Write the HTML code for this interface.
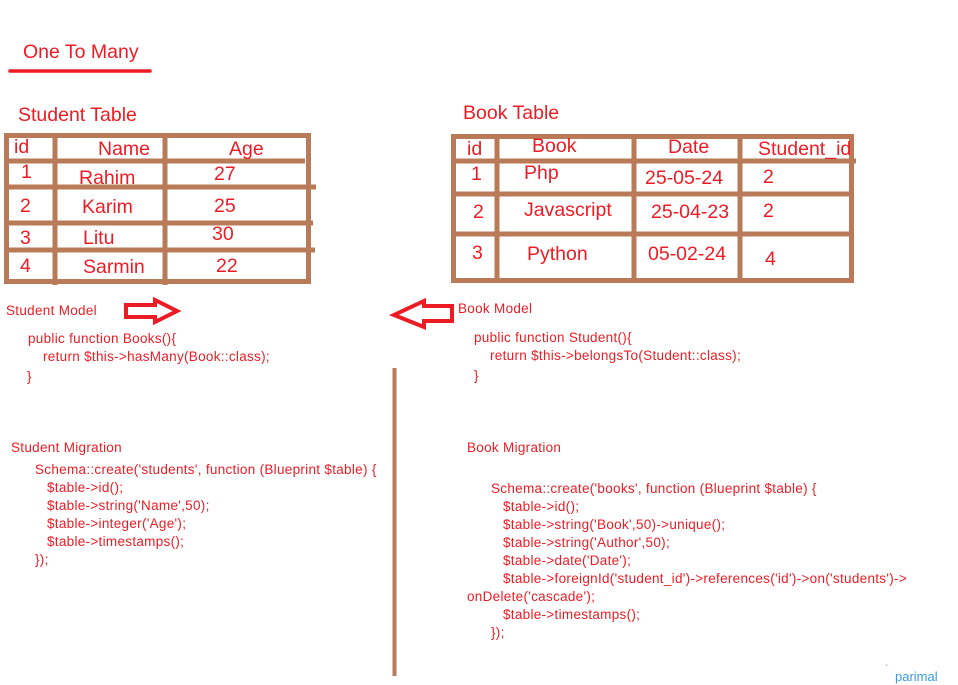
<!DOCTYPE html>
<html><head><meta charset="utf-8"><style>
html,body{margin:0;padding:0;background:#fff;}
svg{display:block;}
text{font-family:"Liberation Sans",sans-serif;fill:#ed1c24;}
.h{font-size:19.5px;}
.c{font-size:13.5px;letter-spacing:0.3px;}
</style></head><body>
<svg width="958" height="685" viewBox="0 0 958 685" xmlns="http://www.w3.org/2000/svg">
<text x="23" y="58" class="h">One To Many</text>
<line x1="10" y1="71" x2="150" y2="71" stroke="#ed1c24" stroke-width="3.5" stroke-linecap="round"/>

<text x="18" y="121" class="h">Student Table</text>
<text x="463" y="119" class="h">Book Table</text>

<g stroke="#b97a57" stroke-width="5" fill="none">
<rect x="6.5" y="135.5" width="302" height="146"/>
<line x1="55" y1="135" x2="55" y2="285"/>
<line x1="165" y1="135" x2="165" y2="285"/>
<line x1="6" y1="161" x2="305" y2="161"/>
<line x1="6" y1="187" x2="316" y2="187"/>
<line x1="6" y1="223" x2="313" y2="223"/>
<line x1="6" y1="250" x2="315" y2="250"/>

<rect x="453.5" y="136.5" width="398" height="144"/>
<line x1="497" y1="136" x2="497" y2="282"/>
<line x1="634" y1="136" x2="634" y2="282"/>
<line x1="740" y1="136" x2="740" y2="282"/>
<line x1="453" y1="161" x2="856" y2="161"/>
<line x1="453" y1="194" x2="851" y2="194"/>
<line x1="453" y1="234" x2="851" y2="234"/>

<line x1="394.5" y1="368" x2="394.5" y2="676" stroke-width="4"/>
</g>

<g class="h">
<text x="14" y="153">id</text><text x="98" y="155">Name</text><text x="229" y="155">Age</text>
<text x="21" y="178">1</text><text x="79" y="184">Rahim</text><text x="214" y="180">27</text>
<text x="20" y="212">2</text><text x="82" y="213">Karim</text><text x="214" y="212">25</text>
<text x="20" y="244">3</text><text x="83" y="244">Litu</text><text x="212" y="240">30</text>
<text x="20" y="272">4</text><text x="83" y="273">Sarmin</text><text x="216" y="272">22</text>

<text x="467" y="155">id</text><text x="532" y="152">Book</text><text x="668" y="153">Date</text><text x="758" y="155">Student_id</text>
<text x="471" y="180">1</text><text x="524" y="179">Php</text><text x="645" y="184">25-05-24</text><text x="763" y="183">2</text>
<text x="473" y="218">2</text><text x="524" y="216">Javascript</text><text x="651" y="218">25-04-23</text><text x="763" y="217">2</text>
<text x="472" y="259">3</text><text x="527" y="260">Python</text><text x="648" y="260">05-02-24</text><text x="765" y="265">4</text>
</g>

<g fill="none" stroke="#ed1c24" stroke-width="4" stroke-linejoin="miter">
<polygon points="126,305 155,305 155,300 177,311 155,322 155,317 126,317"/>
<polygon points="452,306 424,306 424,301 394,315 424,327 424,321 452,321"/>
</g>

<g class="c">
<text x="6" y="315">Student Model</text>
<text x="28" y="343">public function Books(){</text>
<text x="43" y="361">return $this-&gt;hasMany(Book::class);</text>
<text x="27" y="381">}</text>

<text x="458" y="313">Book Model</text>
<text x="474" y="342">public function Student(){</text>
<text x="490" y="360">return $this-&gt;belongsTo(Student::class);</text>
<text x="474" y="380">}</text>

<text x="11" y="452">Student Migration</text>
<text x="35" y="474">Schema::create('students', function (Blueprint $table) {</text>
<text x="47" y="492">$table-&gt;id();</text>
<text x="47" y="510">$table-&gt;string('Name',50);</text>
<text x="47" y="528">$table-&gt;integer('Age');</text>
<text x="47" y="546">$table-&gt;timestamps();</text>
<text x="35" y="564">});</text>

<text x="467" y="452">Book Migration</text>
<text x="491" y="493">Schema::create('books', function (Blueprint $table) {</text>
<text x="503" y="511">$table-&gt;id();</text>
<text x="503" y="529">$table-&gt;string('Book',50)-&gt;unique();</text>
<text x="503" y="547">$table-&gt;string('Author',50);</text>
<text x="503" y="565">$table-&gt;date('Date');</text>
<text x="503" y="583">$table-&gt;foreignId('student_id')-&gt;references('id')-&gt;on('students')-&gt;</text>
<text x="467" y="601">onDelete('cascade');</text>
<text x="503" y="619">$table-&gt;timestamps();</text>
<text x="491" y="637">});</text>
</g>
<text x="885" y="672" style="font-size:10px;fill:#3b9be0">`</text>
<text x="895" y="681" style="font-size:13px;fill:#3b9be0">parimal</text>
</svg>
</body></html>
